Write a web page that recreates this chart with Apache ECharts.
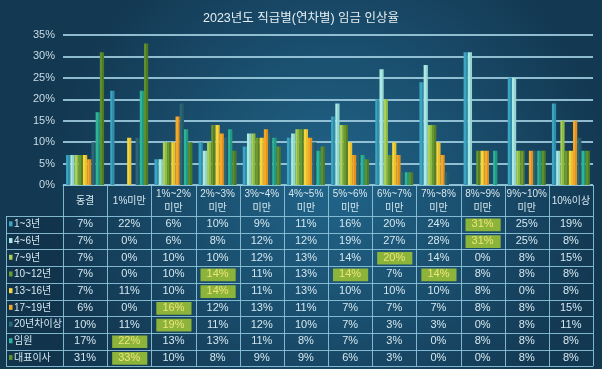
<!DOCTYPE html>
<html><head><meta charset="utf-8">
<script src="https://cdn.jsdelivr.net/npm/echarts@6/dist/echarts.min.js"></script>
<style>html,body{margin:0;padding:0;width:602px;height:369px;overflow:hidden;background:#1a4864}#c{width:602px;height:369px}</style>
</head><body><div id="c"></div>
<script>
const title = '2023년도 직급별(연차별) 임금 인상율';
const categories = ['동결','1%미만','1%~2%\n미만','2%~3%\n미만','3%~4%\n미만','4%~5%\n미만','5%~6%\n미만','6%~7%\n미만','7%~8%\n미만','8%~9%\n미만','9%~10%\n미만','10%이상'];
const seriesNames = ['1~3년','4~6년','7~9년','10~12년','13~16년','17~19년','20년차이상','임원','대표이사'];
const yr1to3   = [7, 22, 6, 10, 9, 11, 16, 20, 24, 31, 25, 19];
const yr4to6   = [7, 0, 6, 8, 12, 12, 19, 27, 28, 31, 25, 8];
const yr7to9   = [7, 0, 10, 10, 12, 13, 14, 20, 14, 0, 8, 15];
const yr10to12 = [7, 0, 10, 14, 11, 13, 14, 7, 14, 8, 8, 8];
const yr13to16 = [7, 11, 10, 14, 11, 13, 10, 10, 10, 8, 0, 8];
const yr17to19 = [6, 0, 16, 12, 13, 11, 7, 7, 7, 8, 8, 15];
const yr20plus = [10, 11, 19, 11, 12, 10, 7, 3, 3, 0, 8, 11];
const executive = [17, 22, 13, 13, 11, 8, 7, 3, 0, 8, 8, 8];
const ceo      = [31, 33, 10, 8, 9, 9, 6, 3, 0, 0, 8, 8];
const seriesValues = [yr1to3, yr4to6, yr7to9, yr10to12, yr13to16, yr17to19, yr20plus, executive, ceo];
const yMin = 0, yMax = 35, yStep = 5;

const colors = ['#3aa6c4','#aee8e4','#a8d05a','#6a9a30','#f5d640','#f5a82a','#2c6778','#2db59c','#5e9030'];
const darker = ['#2f8fab','#92d6d2','#8fbb45','#587f26','#e8c22e','#e4911c','#245868','#23997f','#4c7a25'];

const FONT = '"Liberation Sans", "Noto Sans CJK KR", sans-serif';
const chart = echarts.init(document.getElementById('c'), null, {renderer:'canvas'});

const gridL = 63, gridR = 9, gridT = 35, gridB = 184;

const option = {
  backgroundColor: new echarts.graphic.RadialGradient(0.55, 0.5, 0.75, [
    {offset:0, color:'#21658a'},{offset:1, color:'#133852'}
  ]),
  animation: false,
  title: {text: title, left: 'center', top: 7, textStyle:{color:'#e6eff4', fontSize:12.5, fontWeight:'normal', fontFamily: FONT}},
  grid: {left: gridL, right: gridR, top: gridT, bottom: gridB},
  xAxis: {
    type: 'category', data: categories,
    axisLine: {show: true, lineStyle:{color:'#8cc4da', width:1}},
    axisTick: {show: false},
    axisLabel: {color:'#d5e8f0', fontSize:10, lineHeight:14, verticalAlign:'middle', margin:16, interval:0, fontFamily: FONT}
  },
  yAxis: {
    type: 'value', min: yMin, max: yMax, interval: yStep,
    axisLabel: {formatter: '{value}%', color:'#c8dce6', fontSize:11, margin:8, fontFamily: FONT},
    axisLine: {show:false}, axisTick:{show:false},
    splitLine: {lineStyle:{color:'#a6d2e4', width:2, opacity:0.85}}
  },
  series: seriesNames.map((n, i) => ({
    name: n, type: 'bar', data: seriesValues[i],
    barGap: '0%', barCategoryGap: '14%',
    itemStyle: {color: new echarts.graphic.LinearGradient(0,0,1,0,[
      {offset:0,color:colors[i]},{offset:0.5,color:colors[i]},{offset:0.5,color:darker[i]},{offset:1,color:darker[i]}
    ])}
  }))
};
chart.setOption(option);

const W = 602;
const x0 = gridL, x1 = W - gridR;
const colW = (x1 - x0) / categories.length;
const tableTop = 185, headBottom = 216, rowH = 16.7;
const leftX = 6;
const lineColor = '#8cc4da';
const g = [];
const nRows = seriesNames.length;
const bottom = headBottom + nRows * rowH;
g.push({type:'rect', shape:{x:leftX, y:headBottom, width:x0-leftX, height:bottom-headBottom}, style:{fill:'rgba(10,40,60,0.25)'}, z:1});
for (let r = 0; r < nRows; r++) {
  const vals = seriesValues[r];
  const mx = Math.max(...vals);
  const cy = headBottom + r * rowH + rowH / 2;
  g.push({type:'rect', shape:{x:leftX+3, y:cy-3, width:3.5, height:5}, style:{fill:colors[r]}, z:5});
  g.push({type:'text', style:{text:seriesNames[r], x:leftX+8, y:cy, textVerticalAlign:'middle', textAlign:'left', fill:'#d5e8f0', font:'10px ' + FONT}, z:5});
  for (let c = 0; c < vals.length; c++) {
    const cx = chart.convertToPixel({xAxisIndex:0}, c);
    const hl = vals[c] === mx;
    if (hl) {
      g.push({type:'rect', shape:{x:cx-colW/2+5, y:cy-rowH/2+2.5, width:colW-9, height:rowH-4}, style:{fill:'#8db43a'}, z:3});
    }
    g.push({type:'text', style:{text: vals[c] + '%', x:cx, y:cy, textAlign:'center', textVerticalAlign:'middle', fill: hl ? '#ece47a' : '#d5e8f0', font:'11px ' + FONT}, z:5});
  }
}
for (let r = 0; r <= nRows; r++) {
  const y = Math.round(headBottom + r * rowH) + 0.5;
  g.push({type:'line', shape:{x1:leftX, y1:y, x2:x1, y2:y}, style:{stroke:lineColor, lineWidth:1, opacity:0.9}, z:4});
}
for (let c = 0; c <= categories.length; c++) {
  const x = Math.round(x0 + c * colW) + 0.5;
  g.push({type:'line', shape:{x1:x, y1:tableTop, x2:x, y2:bottom}, style:{stroke:lineColor, lineWidth:1, opacity:0.9}, z:4});
}
g.push({type:'line', shape:{x1:leftX+0.5, y1:headBottom, x2:leftX+0.5, y2:bottom}, style:{stroke:lineColor, lineWidth:1, opacity:0.9}, z:4});
chart.setOption({graphic: g});
</script></body></html>
